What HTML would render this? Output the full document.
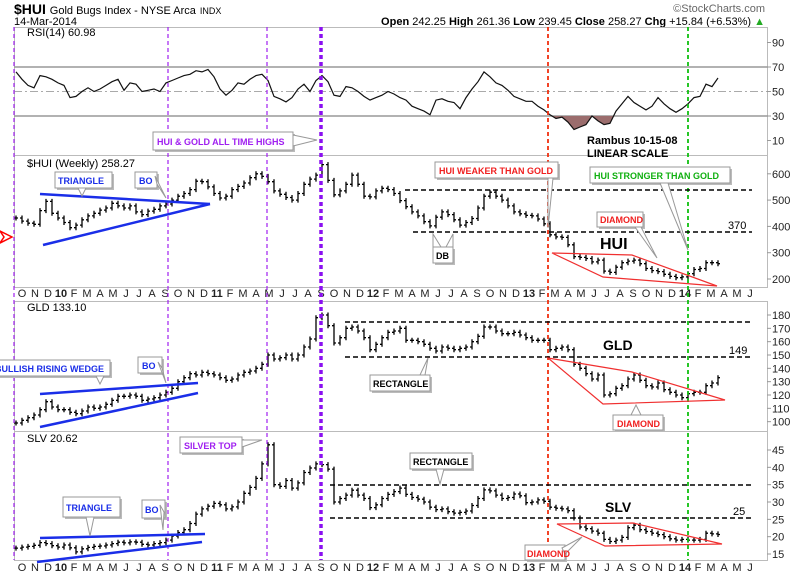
<!DOCTYPE html>
<html><head><meta charset="utf-8"><style>
body{margin:0;background:#fff;}
svg{display:block;font-family:"Liberation Sans",sans-serif;}
.ax{font-size:11px;fill:#222;}
.mo{font-size:11px;fill:#222;}
.cb{fill:#fff;stroke:#999;stroke-width:1;}
.sh{fill:#bbb;}
.ct{font-size:9px;font-weight:bold;}
</style></head><body>
<svg id="chart" width="800" height="578" viewBox="0 0 800 578">
<rect x="0" y="0" width="800" height="578" fill="#fff"/>
<text x="14" y="14" font-size="14" font-weight="bold" fill="#000">$HUI <tspan font-size="11" font-weight="normal">Gold Bugs Index - NYSE Arca</tspan> <tspan font-size="9" font-weight="normal">INDX</tspan></text>
<text x="14" y="25" font-size="11" fill="#000">14-Mar-2014</text>
<text x="765" y="12" font-size="11" fill="#666" text-anchor="end">©StockCharts.com</text>
<text x="765" y="25" font-size="11" fill="#000" text-anchor="end"><tspan font-weight="bold">Open</tspan> 242.25 <tspan font-weight="bold">High</tspan> 261.36 <tspan font-weight="bold">Low</tspan> 239.45 <tspan font-weight="bold">Close</tspan> 258.27 <tspan font-weight="bold">Chg</tspan> +15.84 (+6.53%) <tspan fill="#2a2">▲</tspan></text>
<g fill="none" stroke="#bbb" stroke-width="1">
<rect x="14.5" y="27.5" width="753" height="128"/>
<rect x="14.5" y="155.5" width="753" height="132"/>
<rect x="14.5" y="301.5" width="753" height="130"/>
<rect x="14.5" y="431.5" width="753" height="129"/>
</g>
<line x1="14" y1="67" x2="768" y2="67" stroke="#999" stroke-width="1.5"/>
<line x1="14" y1="116" x2="768" y2="116" stroke="#999" stroke-width="1.5"/>
<line x1="14" y1="91.5" x2="768" y2="91.5" stroke="#aaa" stroke-width="1" stroke-dasharray="8,3,2,3"/>
<text x="27" y="36" font-size="11" fill="#000">RSI(14) 60.98</text>
<text x="27" y="167" font-size="11" fill="#000">$HUI (Weekly) 258.27</text>
<text x="27" y="311" font-size="11" fill="#000">GLD 133.10</text>
<text x="27" y="442" font-size="11" fill="#000">SLV 20.62</text>
<g id="rsiG"></g><g id="huiG"></g><g id="gldG"></g><g id="slvG"></g>
<g id="axG"></g>
<g stroke-dasharray="4,3">
<line x1="14" y1="27" x2="14" y2="560" stroke="#a020f0" stroke-width="1.2"/>
<line x1="168" y1="27" x2="168" y2="560" stroke="#a020f0" stroke-width="1.2"/>
<line x1="267" y1="27" x2="267" y2="560" stroke="#a020f0" stroke-width="1.2"/>
<line x1="321" y1="27" x2="321" y2="560" stroke="#8a10f0" stroke-width="3.5"/>
<line x1="548" y1="27" x2="548" y2="560" stroke="#f03010" stroke-width="1.8"/>
<line x1="688" y1="27" x2="688" y2="560" stroke="#10c010" stroke-width="1.8"/>
</g>
<g stroke="#000" stroke-width="1.5" stroke-dasharray="5,3">
<line x1="405" y1="190" x2="752" y2="190"/>
<line x1="413" y1="232" x2="752" y2="232"/>
<line x1="345" y1="322" x2="752" y2="322"/>
<line x1="345" y1="357" x2="752" y2="357"/>
<line x1="330" y1="485" x2="752" y2="485"/>
<line x1="330" y1="518" x2="752" y2="518"/>
</g>
<text x="728" y="229" font-size="11" fill="#000">370</text>
<text x="729" y="354" font-size="11" fill="#000">149</text>
<text x="733" y="515" font-size="11" fill="#000">25</text>
<g stroke="#1a2ee8" stroke-width="2.5">
<line x1="40" y1="194" x2="210" y2="204"/>
<line x1="43" y1="245" x2="210" y2="204"/>
<line x1="40" y1="394" x2="198" y2="383"/>
<line x1="40" y1="427" x2="198" y2="393"/>
<line x1="40" y1="538" x2="205" y2="534"/>
<line x1="37" y1="562" x2="202" y2="542"/>
</g>
<g fill="none" stroke="#f03030" stroke-width="1.2">
<polygon points="552,253 632,255 717,286 603,277"/>
<polygon points="548,358 632,372 725,400 603,404"/>
<polygon points="557,524 633,523 722,544 605,546"/>
</g>
<polygon points="0,231 12,237 0,243 4,237" fill="none" stroke="#f00" stroke-width="1.5"/>
<text x="600" y="249" font-size="16" font-weight="bold" fill="#000">HUI</text>
<text x="603" y="350" font-size="14" font-weight="bold" fill="#000">GLD</text>
<text x="605" y="512" font-size="14" font-weight="bold" fill="#000">SLV</text>
<text x="587" y="144" font-size="11" font-weight="bold" fill="#000">Rambus  10-15-08</text>
<text x="587" y="157" font-size="11" font-weight="bold" fill="#000">LINEAR SCALE</text>
<g><rect class="sh" x="155" y="134" width="140" height="18"/><rect class="cb" x="153" y="132" width="140" height="18"/><polygon points="293,135 317,140 293,146" fill="#fff" stroke="#999"/><text class="ct" x="157" y="145" fill="#a020f0">HUI &amp; GOLD ALL TIME HIGHS</text></g>
<g><rect class="sh" x="57" y="174" width="57" height="16"/><rect class="cb" x="55" y="172" width="57" height="16"/><polygon points="78,188 82,196 86,188" fill="#fff" stroke="#999"/><text class="ct" x="58" y="184" fill="#1a2ee8">TRIANGLE</text></g>
<g><rect class="sh" x="137" y="174" width="22" height="16"/><rect class="cb" x="135" y="172" width="22" height="16"/><polygon points="155,176 166,198 157,184" fill="#fff" stroke="#999"/><text class="ct" x="139" y="184" fill="#1a2ee8">BO</text></g>
<g><rect class="sh" x="437" y="164" width="123" height="16"/><rect class="cb" x="435" y="162" width="123" height="16"/><polygon points="548,178 548,228 553,178" fill="#fff" stroke="#999"/><text class="ct" x="439" y="174" fill="#f02020">HUI WEAKER THAN GOLD</text></g>
<g><rect class="sh" x="592" y="169" width="140" height="16"/><rect class="cb" x="590" y="167" width="140" height="16"/><polygon points="660,183 688,250 668,183" fill="#fff" stroke="#999"/><text class="ct" x="594" y="179" fill="#10b010">HUI STRONGER THAN GOLD</text></g>
<g><rect class="sh" x="435" y="249" width="20" height="16"/><rect class="cb" x="433" y="247" width="20" height="16"/><polygon points="433,247 433,234 441,247" fill="#fff" stroke="#999"/><polygon points="453,247 453,234 446,247" fill="#fff" stroke="#999"/><text class="ct" x="436" y="259" fill="#000">DB</text></g>
<g><rect class="sh" x="599" y="214" width="46" height="15"/><rect class="cb" x="597" y="212" width="46" height="15"/><polygon points="635,227 657,258 641,227" fill="#fff" stroke="#999"/><text class="ct" x="600" y="223" fill="#f02020">DIAMOND</text></g>
<g><rect class="sh" x="-6" y="362" width="118" height="16"/><rect class="cb" x="-8" y="360" width="118" height="16"/><polygon points="96,376 100,384 104,376" fill="#fff" stroke="#999"/><text class="ct" x="-5" y="372" fill="#1a2ee8">BULLISH RISING WEDGE</text></g>
<g><rect class="sh" x="140" y="359" width="24" height="16"/><rect class="cb" x="138" y="357" width="24" height="16"/><polygon points="158,362 166,383 162,368" fill="#fff" stroke="#999"/><text class="ct" x="142" y="369" fill="#1a2ee8">BO</text></g>
<g><rect class="sh" x="372" y="377" width="60" height="16"/><rect class="cb" x="370" y="375" width="60" height="16"/><polygon points="420,375 428,358 425,375" fill="#fff" stroke="#999"/><text class="ct" x="373" y="387" fill="#000">RECTANGLE</text></g>
<g><rect class="sh" x="615" y="417" width="50" height="15"/><rect class="cb" x="613" y="415" width="50" height="15"/><polygon points="631,415 636,405 641,415" fill="#fff" stroke="#999"/><text class="ct" x="617" y="427" fill="#f02020">DIAMOND</text></g>
<g><rect class="sh" x="182" y="439" width="62" height="16"/><rect class="cb" x="180" y="437" width="62" height="16"/><polygon points="242,440 262,440 242,447" fill="#fff" stroke="#999"/><text class="ct" x="184" y="449" fill="#a020f0">SILVER TOP</text></g>
<g><rect class="sh" x="65" y="499" width="57" height="20"/><rect class="cb" x="63" y="497" width="57" height="20"/><polygon points="86,517 90,536 94,517" fill="#fff" stroke="#999"/><text class="ct" x="66" y="511" fill="#1a2ee8">TRIANGLE</text></g>
<g><rect class="sh" x="144" y="502" width="23" height="18"/><rect class="cb" x="142" y="500" width="23" height="18"/><polygon points="160,505 163,530 164,512" fill="#fff" stroke="#999"/><text class="ct" x="145" y="513" fill="#1a2ee8">BO</text></g>
<g><rect class="sh" x="412" y="455" width="62" height="16"/><rect class="cb" x="410" y="453" width="62" height="16"/><polygon points="436,469 440,484 444,469" fill="#fff" stroke="#999"/><text class="ct" x="413" y="465" fill="#000">RECTANGLE</text></g>
<g><rect class="sh" x="527" y="547" width="40" height="15"/><rect class="cb" x="525" y="545" width="40" height="15"/><polygon points="562,548 582,537 565,554" fill="#fff" stroke="#999"/><text class="ct" x="527" y="557" fill="#f02020">DIAMOND</text></g>
</svg>
<script>
const huiClose=[432,420,412,408,460,495,450,432,415,395,405,425,440,450,462,470,488,478,470,478,455,445,458,465,478,485,500,515,525,540,572,570,550,525,508,515,540,552,565,585,600,590,570,535,522,510,500,525,560,580,595,635,575,520,535,560,595,560,515,512,535,545,540,525,498,475,455,440,418,402,435,455,445,425,405,415,430,470,515,530,515,500,478,455,448,442,440,428,410,368,360,358,330,285,282,278,265,272,230,225,245,262,268,272,258,240,232,228,218,210,205,208,220,236,240,262,262,258];
const gldClose=[99,101,103,105,109,115,111,109,109,107,106,108,111,110,111,113,116,119,119,120,119,116,117,118,120,122,125,130,133,136,135,137,136,135,133,131,132,135,137,138,140,143,150,147,148,150,147,150,156,162,178,180,172,159,163,170,171,168,163,154,158,163,167,168,170,161,161,160,158,155,153,156,155,154,155,156,160,164,171,171,168,166,166,167,165,163,161,161,161,154,155,156,154,143,140,136,132,135,120,121,125,127,132,135,131,127,126,129,124,122,120,118,121,122,122,127,129,133];
const slvClose=[16.7,17.0,17.2,17.5,18.3,18.0,17.4,17.0,17.6,16.8,15.6,16.5,16.9,17.2,17.3,17.6,18.0,18.4,18.2,18.5,18.4,17.8,17.6,18.0,18.3,19.0,20.2,21.2,22.0,23.8,26.5,28.0,28.8,29.6,29.2,28.0,28.6,30.0,32.5,34.2,36.8,41.0,46.5,35.0,34.5,36.2,34.0,35.5,38.5,39.8,41.0,40.8,39.5,30.0,31.0,32.0,33.4,32.0,31.0,28.4,29.2,31.0,32.2,33.0,34.0,32.2,31.3,30.8,30.0,28.5,27.8,28.0,27.2,26.8,27.0,27.4,29.0,31.0,33.5,33.2,32.0,31.0,31.3,32.3,31.8,29.8,30.0,30.6,30.2,28.5,28.2,28.0,27.5,25.4,22.8,22.3,21.6,21.0,19.2,18.6,19.0,19.8,22.6,23.3,22.0,21.5,21.0,20.6,20.0,19.4,19.0,19.2,19.0,19.0,19.2,21.0,20.8,20.62];
const rsiValues=[66,60,55,53,63,62,60,57,55,45,46,50,53,50,52,55,58,60,51,57,56,50,51,52,50,57,59,61,63,64,67,66,68,62,52,47,51,57,56,60,63,64,59,46,44,41.5,45,52,56,50,59,63,58,47,46,54,53,50,46,43,45,47,50,48,45,43,38,36,34,31,43,44,42,41,36,45,52,58,66,62,57,55,51,46,44,42,42,38,35,31,28,29,25,19,21,23,30,26,23,24,34,40,46,41,38,35,38,45,40,36,33,36,40,45,46,56,54,60.98];
const rsiTicks=[90,70,50,30,10];
const huiTicks=[600,500,400,300,200];
const gldTicks=[180,170,160,150,140,130,120,110,100];
const slvTicks=[45,40,35,30,25,20,15];
const monthLabels=["O","N","D","10","F","M","A","M","J","J","A","S","O","N","D","11","F","M","A","M","J","J","A","S","O","N","D","12","F","M","A","M","J","J","A","S","O","N","D","13","F","M","A","M","J","J","A","S","O","N","D","14","F","M","A","M","J"];

const NS="http://www.w3.org/2000/svg";
const xAt=i=>16+6*i;
const yRsi=v=>67+(70-v)*1.225;
const yHui=v=>279-(v-200)*0.263;
const yGld=v=>315+(180-v)*1.3333;
const ySlv=v=>450+(45-v)*3.467;
function mk(tag,attrs,parent){const e=document.createElementNS(NS,tag);for(const k in attrs)e.setAttribute(k,attrs[k]);parent.appendChild(e);return e;}

const rsiG=document.getElementById('rsiG');
let pts=rsiValues.map((v,i)=>xAt(i)+','+yRsi(v).toFixed(1));
const defs=mk('defs',{},rsiG);
const cp=mk('clipPath',{id:'below30'},defs);
mk('rect',{x:0,y:116,width:800,height:40},cp);
const fill=mk('polygon',{points:xAt(0)+',116 '+pts.join(' ')+' '+xAt(rsiValues.length-1)+',116',fill:'#9b6d6d','clip-path':'url(#below30)'},rsiG);


const rl=mk('polyline',{points:pts.join(' '),fill:'none',stroke:'#111','stroke-width':1.2},rsiG);



function bars(data,yf,gid,name){
  const g=document.getElementById(gid);
  for(let i=0;i<data.length;i++){
    const c=data[i],o=i?data[i-1]:c;
    const x=xAt(i);
    const yh=Math.min(yf(o),yf(c))-2.5,yl=Math.max(yf(o),yf(c))+2.5;
    const b=mk('path',{d:'M'+x+','+yh.toFixed(1)+'V'+yl.toFixed(1)+'M'+(x-2)+','+yf(o).toFixed(1)+'H'+x+'M'+x+','+yf(c).toFixed(1)+'H'+(x+2),stroke:'#000','stroke-width':1.3,fill:'none'},g);
    
    
  }
}
bars(huiClose,yHui,'huiG','hui');
bars(gldClose,yGld,'gldG','gld');
bars(slvClose,ySlv,'slvG','slv');

const axG=document.getElementById('axG');
function ticks(arr,yf,name){
  arr.forEach(v=>{
    const y=yf(v);
    mk('line',{x1:767,y1:y,x2:771,y2:y,stroke:'#999'},axG);
    const t=mk('text',{x:772,y:y+4,class:'ax'},axG);
    t.textContent=v;
    
    
  });
}
ticks(rsiTicks,yRsi,'rsi');ticks(huiTicks,yHui,'hui');ticks(gldTicks,yGld,'gld');ticks(slvTicks,ySlv,'slv');

monthLabels.forEach((m,k)=>{
  const x=22+13*k;
  [297,571].forEach(y=>{
    const t=mk('text',{x:x,y:y,class:'mo','text-anchor':'middle','font-weight':/\d/.test(m)?'bold':'normal','font-size':/\d/.test(m)?12:11},axG);
    t.textContent=m;
    
    
  });
});
</script>
</body></html>
